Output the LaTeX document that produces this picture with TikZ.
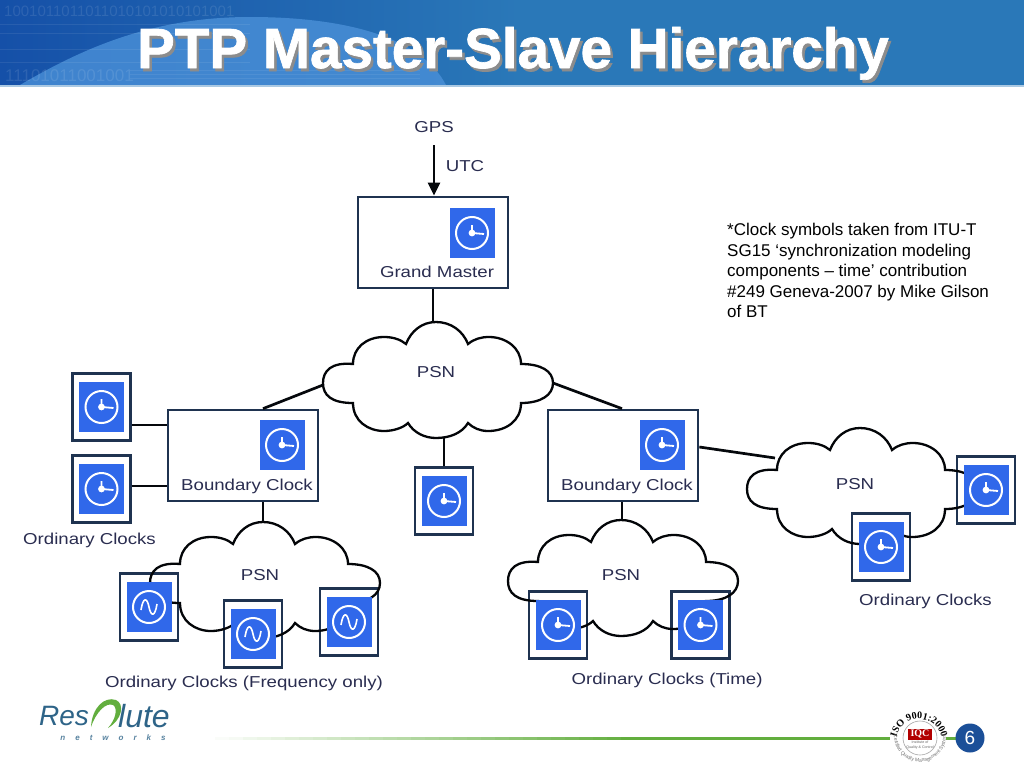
\documentclass[tikz,border=0pt]{standalone}
\usepackage{fontspec}
\setmainfont{Liberation Sans}
\newfontfamily\labfont[FakeStretch=1.18]{Liberation Sans}
\newfontfamily\serfont{Liberation Serif}
\newfontfamily\titlefont[UprightFont=* Bold,FakeBold=1.2]{Liberation Sans}
\usetikzlibrary{arrows.meta,shadings,decorations.text}
\definecolor{framecol}{HTML}{1F3350}
\definecolor{blueface}{HTML}{3068EA}
\definecolor{labcol}{HTML}{2A2D50}
\definecolor{headcol}{HTML}{2A78B8}
\definecolor{headdark}{HTML}{1550A8}
\definecolor{swoosh}{HTML}{4A90D8}
\definecolor{logoblue}{HTML}{2E6488}
\definecolor{logogreen}{HTML}{62AE3E}
\definecolor{pageblue}{HTML}{1B4F98}
\tikzset{
  x=1pt,y=-1pt,
  framebox/.style={draw=framecol,line width=2.4pt,fill=white,minimum width=58pt,minimum height=67pt,inner sep=0pt},
  bigbox/.style={draw=framecol,line width=2.7pt,fill=white,minimum height=91pt,inner sep=0pt},
  bluebox/.style={fill=blueface,minimum width=45pt,minimum height=50pt,inner sep=0pt},
  lab/.style={text=labcol,font=\labfont\fontsize{15.8}{18}\selectfont,inner sep=0pt},
  wire/.style={draw=black!85!framecol,line width=2.7pt},
  cloudline/.style={draw=black!90!framecol,line width=2.3pt},
  ringw/.style={white,line width=2pt},
  handw/.style={white,line width=1.8pt},
}
\newcommand{\clkframe}[3]{\node[framebox] (#1) at (#2,#3) {};}
\newcommand{\timefaceat}[1]{%
  \begin{scope}[shift={(#1)}]
    \draw[ringw] (0,0) circle[radius=16];
    \draw[handw] (0,-8) -- (0,0) -- (12,1);
    \fill[white] (0,0) circle[radius=3.4];
  \end{scope}}
\newcommand{\clkface}[2]{%
  \node[bluebox] (#1-face) at (#1) {};
  \ifx#2t
    \timefaceat{#1}
  \else
    \begin{scope}[shift={(#1)}]
      \draw[ringw] (0,0) circle[radius=16];
      \draw[white,line width=1.6pt] (-8,3) .. controls (-6,-10) and (-2,-10) .. (0,0) .. controls (2,10) and (6,10) .. (8,-3);
    \end{scope}
  \fi}
\newcommand{\cloudat}[3]{%
  \begin{scope}[shift={(#2,#3)}]
    \coordinate (#1-t) at (0,-61);
    \coordinate (#1-tl) at (-113,2);
    \coordinate (#1-tr) at (117,0);
    \coordinate (#1-l) at (-85,-31);
    \coordinate (#1-b) at (8,55);
    \draw[cloudline] (-83,-19) .. controls (-105,-21) and (-113,-12) .. (-113,0)
      .. controls (-113,12) and (-105,20) .. (-83,20)
      .. controls (-83,38) and (-68,48) .. (-52,48)
      .. controls (-43,48) and (-33,45) .. (-28,40)
      .. controls (-22,50) and (-11,55) .. (0,55)
      .. controls (14,55) and (26,50) .. (32,40)
      .. controls (37,45) and (44,48) .. (52,48)
      .. controls (70,48) and (85,38) .. (85,20)
      .. controls (105,20) and (117,12) .. (117,0)
      .. controls (117,-12) and (105,-19) .. (85,-19)
      .. controls (85,-35) and (70,-46) .. (53,-46)
      .. controls (45,-46) and (38,-44) .. (32,-39)
      .. controls (27,-52) and (15,-61) .. (0,-61)
      .. controls (-14,-61) and (-25,-52) .. (-30,-39)
      .. controls (-36,-44) and (-44,-46) .. (-52,-46)
      .. controls (-70,-46) and (-83,-35) .. (-83,-19) -- cycle;
  \end{scope}}
\begin{document}
\begin{tikzpicture}
\useasboundingbox (0,0) rectangle (1024,768);
\fill[white] (0,0) rectangle (1024,768);
% header
\fill[headcol] (0,0) rectangle (1024,85);
\shade[left color=headdark,right color=headcol] (0,0) rectangle (520,85);
\fill[swoosh,opacity=.8] (20,85) .. controls (80,50) and (150,17) .. (250,17) .. controls (340,17) and (420,35) .. (446,85) -- cycle;
\foreach \yy in {24,33,49,62}{\fill[white,opacity=.08] (0,\yy) rectangle (250,\yy+1);}
\foreach \yy in {70,74,78}{\fill[white,opacity=.07] (130,\yy) rectangle (420,\yy+1);}
\node[anchor=west,text=white,opacity=.1,font=\fontsize{15}{15}\selectfont,inner sep=0pt] (bitsa) at (4,11) {1001011011011010101010101001};
\node[anchor=west,text=white,opacity=.1,font=\fontsize{17}{17}\selectfont,inner sep=0pt] (bitsb) at (5,76) {11101011001001};
\fill[headcol!40!white] (0,85) rectangle (1024,87);
\node[anchor=base,text=black!45,font=\titlefont\fontsize{56.6}{60}\selectfont,inner sep=0pt] (titleshadow) at (515.5,71) {PTP Master-Slave Hierarchy};
\node[anchor=base,text=white,font=\titlefont\fontsize{56.6}{60}\selectfont,inner sep=0pt] (title) at (513,68) {PTP Master-Slave Hierarchy};
% labels top
\node[lab] (gps) at (434,127) {GPS};
\node[lab] (utc) at (465,166) {UTC};
% big boxes
\node[bigbox,minimum width=150pt] (gm) at (433,242.5) {};
\node[bigbox,minimum width=150pt] (bca) at (243,455.5) {};
\node[bigbox,minimum width=150pt] (bcb) at (623,455.5) {};
\node[bluebox] (gm-face) at (472,233) {};
\node[bluebox] (bca-face) at (282,445) {};
\node[bluebox] (bcb-face) at (662,445) {};
\timefaceat{gm-face}
\timefaceat{bca-face}
\timefaceat{bcb-face}
\node[lab] (gmlab) at (437,272) {Grand Master};
\node[lab] (bcalab) at (247,486) {Boundary Clock};
\node[lab] (bcblab) at (627,486) {Boundary Clock};
% clock frames
\clkframe{oa}{101.5}{407}
\clkframe{ob}{101.5}{489}
\clkframe{oc}{444}{501}
\clkframe{fa}{149}{607}
\clkframe{fb}{253}{634}
\clkframe{fc}{349}{622}
\clkframe{ta}{558}{625}
\clkframe{tb}{700.5}{625}
\clkframe{ra}{986}{490}
\clkframe{rb}{881}{547}
% clouds
\cloudat{psna}{436}{383}
\cloudat{psnb}{263}{583}
\cloudat{psnc}{621}{581}
\cloudat{psnd}{860}{489}
% faces
\clkface{oa}{t}
\clkface{ob}{t}
\clkface{oc}{t}
\clkface{fa}{f}
\clkface{fb}{f}
\clkface{fc}{f}
\clkface{ta}{t}
\clkface{tb}{t}
\clkface{ra}{t}
\clkface{rb}{t}
% PSN labels
\node[lab] (psnalab) at (436,372) {PSN};
\node[lab] (psnblab) at (260,575) {PSN};
\node[lab] (psnclab) at (621,575) {PSN};
\node[lab] (psndlab) at (855,484) {PSN};
% other labels
\node[lab] (oclab) at (89.5,540) {Ordinary Clocks};
\node[lab] (fqlab) at (244,683) {Ordinary Clocks (Frequency only)};
\node[lab] (tmlab) at (667,680) {Ordinary Clocks (Time)};
\node[lab] (orlab) at (925.5,601) {Ordinary Clocks};
% connectors
\coordinate (arrowstart) at (434,145);
\draw[wire,-{Triangle[length=13pt,width=12pt]}] (arrowstart) -- (arrowstart |- gm.north);
\draw[wire] (gm.south) -- (gm.south |- psna-t);
\draw[wire] (psna-tl) -- ([xshift=20pt]bca.north);
\draw[wire] (psna-tr) -- ([xshift=-1pt]bcb.north);
\draw[wire] (oc.north) -- (oc.north |- psna-b);
\draw[wire] ([yshift=-18pt]oa.east) -- ([yshift=-18pt]oa.east -| bca.west);
\draw[wire] ([yshift=3pt]ob.east) -- ([yshift=3pt]ob.east -| bca.west);
\draw[wire] ([xshift=20pt]bca.south) -- (psnb-t);
\draw[wire] ([xshift=-1pt]bcb.south) -- ([xshift=-1pt]bcb.south |- psnc-t);
\draw[wire] ([yshift=8.5pt]bcb.east) -- (psnd-l);
% note
\node[anchor=north west,align=left,text=black,font=\fontsize{17}{20.6}\selectfont,inner sep=0pt] (note) at (727,223) {*Clock symbols taken from ITU-T\\SG15 ‘synchronization modeling\\components – time’ contribution\\\#249 Geneva-2007 by Mike Gilson\\of BT};
% footer
\foreach \i in {0,...,29}{
  \pgfmathtruncatemacro{\pct}{(\i+1)*100/30}
  \fill[logogreen!\pct!white] (215+\i*14,737) rectangle (215+\i*14+14.5,740);
}
\fill[logogreen] (634,737) rectangle (960,740);
\node[anchor=west,text=logoblue,font=\itshape\fontsize{28}{32}\selectfont,inner sep=0pt] (logoa) at (39,716) {Res};
\fill[logogreen] (91,727) .. controls (92,708) and (104,696) .. (116,700) .. controls (125,704) and (122,720) .. (108,728) .. controls (116,719) and (118,708) .. (113,705) .. controls (106,702) and (96,712) .. (91,727) -- cycle;
\node[anchor=west,text=logoblue,font=\itshape\fontsize{32}{32}\selectfont,inner sep=0pt] (logob) at (118,716) {lute};
\node[text=logoblue!80,font=\itshape\bfseries\fontsize{8}{10}\selectfont,inner sep=0pt] (logoc) at (113,738) {n\hspace{10pt}e\hspace{10pt}t\hspace{10pt}w\hspace{10pt}o\hspace{10pt}r\hspace{10pt}k\hspace{10pt}s};
\fill[white] (918,736) ellipse[x radius=28,y radius=31];
\draw[black!35,line width=.6pt] (920,738) circle[radius=17];
\node[fill=red!70!black,text=white,font=\serfont\bfseries\fontsize{10}{10}\selectfont,minimum width=24pt,minimum height=11pt,inner sep=0pt] (iqc) at (920,734) {IQC};
\node[text=black!60,align=center,font=\fontsize{3.6}{4.4}\selectfont,inner sep=0pt] (iqcsub) at (920,745) {Institute of\\Quality \& Control};
\path[postaction={decorate,decoration={text along path,text align=center,text={|\serfont\fontsize{10}{10}\selectfont\bfseries|ISO 9001:2000}}}] (896,742) arc[start angle=180,end angle=360,radius=23];
\path[postaction={decorate,decoration={text along path,text align=center,text={|\fontsize{5}{5}\selectfont\color{black!55}|Certified Quality Management System}}}] (894,736) arc[start angle=180,end angle=0,radius=26];
\fill[pageblue] (970,738) circle[radius=14.5];
\node[text=white,font=\fontsize{19}{20}\selectfont,inner sep=0pt] (page) at (970,738) {6};
\end{tikzpicture}
\end{document}
